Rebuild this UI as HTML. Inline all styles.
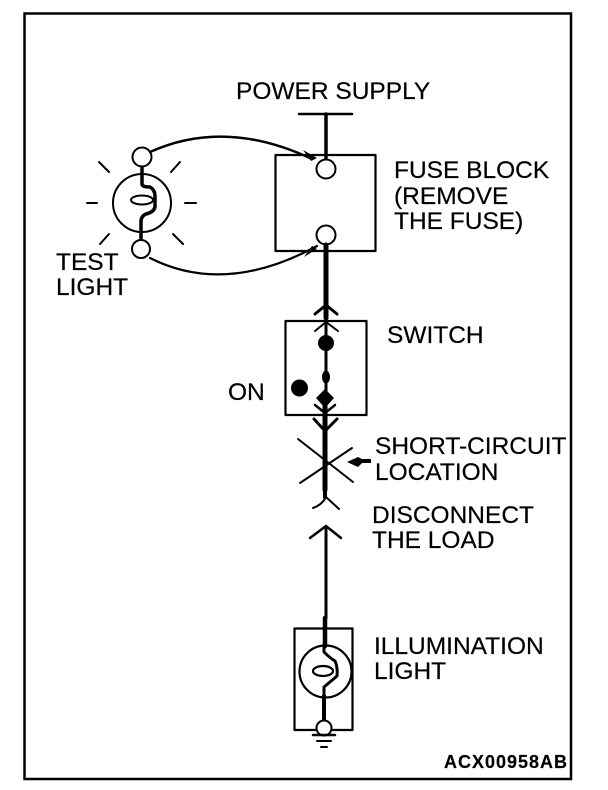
<!DOCTYPE html>
<html><head><meta charset="utf-8"><style>
html,body{margin:0;padding:0;background:#fff}
svg{display:block}
text{font-family:"Liberation Sans",sans-serif;font-size:24.5px;fill:#000;stroke:#000;stroke-width:.2px}
</style></head><body>
<svg width="608" height="790" viewBox="0 0 608 790" xmlns="http://www.w3.org/2000/svg">
<rect x="24.500" y="13.500" width="546.500" height="765.500" fill="none" stroke="#000" stroke-width="2.500"/>
<g fill="none" stroke="#000" stroke-linecap="round" stroke-linejoin="round">
<!-- fuse block -->
<rect x="275.500" y="155" width="100" height="96" stroke-width="2.200"/>
<path d="M299 114H352" stroke-width="2.500"/>
<path d="M326 114V159" stroke-width="3.500"/>
<circle cx="326" cy="169" r="9.500" fill="#fff" stroke-width="2"/>
<circle cx="326" cy="235" r="9.500" fill="#fff" stroke-width="2"/>
<path d="M326 245V318" stroke-width="5"/>
<!-- test light -->
<circle cx="142" cy="157" r="9.500" fill="#fff" stroke-width="2"/>
<circle cx="141" cy="249" r="9" fill="#fff" stroke-width="2"/>
<circle cx="142" cy="203" r="29" stroke-width="2"/>
<path d="M142 167V184Q142 187 150 187Q155 190 155 196V207Q154 212 146 214Q141 216 141 222V239" stroke-width="3.500"/>
<ellipse cx="142" cy="200" rx="11" ry="4.500" stroke-width="2"/>
<path d="M150 152Q225 118 312 159" stroke-width="2.500"/>
<path d="M150 258Q225 296 317 246" stroke-width="2.200"/>
<!-- rays -->
<path d="M99 162L109 172M180 162L171 172M87 203H97M185 203H196M100 244L109 234M173 234L183 244" stroke-width="2"/>
<!-- switch -->
<rect x="285.500" y="321" width="81" height="94" stroke-width="2.200"/>
<path d="M326 318V400" stroke-width="3"/>
<path d="M325 400V490" stroke-width="5"/>
<path d="M325 490V497" stroke-width="4"/>
<path d="M315 314L326 305L337 314" stroke-width="3"/>
<path d="M315 331L326 322L338 331" stroke-width="2"/>
<path d="M315 405L325 413L335 405" stroke-width="2.500"/>
<path d="M314 419L325 431L337 419" stroke-width="3"/>
<!-- X -->
<path d="M298 439L353 482M300 483L352 448" stroke-width="2"/>
<!-- disconnect -->
<path d="M313 508Q322 505 326 497L339 509" stroke-width="2"/>
<path d="M310 538L326 526L341 538" stroke-width="2.500"/>
<path d="M326 527V618" stroke-width="3"/>
<path d="M325 618V646" stroke-width="4.500"/>
<!-- illumination -->
<rect x="294.500" y="628.500" width="58" height="101.500" stroke-width="2.200"/>
<circle cx="325.500" cy="671.500" r="26" stroke-width="2.200"/>
<path d="M324 645V652Q330 658 335 661Q338 668 337 676Q330 682 324 687V697" stroke-width="3"/>
<ellipse cx="323" cy="671" rx="10" ry="5" stroke-width="2.200"/>
<path d="M324 696V720" stroke-width="4"/>
<circle cx="324" cy="728" r="7.500" fill="#fff" stroke-width="2"/>
<path d="M313 735H335" stroke-width="2.500"/>
<path d="M317 741H331" stroke-width="2"/>
<path d="M321 747H327" stroke-width="2"/>
</g>
<g fill="#000" stroke="none">
<path d="M303 150L317 158L311 161Z"/>
<path d="M304 257L317 249L312 246Z"/>
<circle cx="326" cy="343" r="8"/>
<ellipse cx="326" cy="377" rx="4" ry="6.500"/>
<path d="M325 389L334 398L325 408L316 398Z"/>
<circle cx="299.500" cy="388" r="8.500"/>
<path d="M347 462L358 457L362 459H371V463H362L358 467Z"/>
</g>
<text x="236" y="99">POWER SUPPLY</text>
<text x="394" y="178">FUSE BLOCK</text>
<text x="394" y="204">(REMOVE</text>
<text x="394" y="229">THE FUSE)</text>
<text x="56" y="270">TEST</text>
<text x="56" y="295">LIGHT</text>
<text x="387" y="343">SWITCH</text>
<text x="228" y="400">ON</text>
<text x="375" y="454">SHORT-CIRCUIT</text>
<text x="375" y="480">LOCATION</text>
<text x="372" y="523">DISCONNECT</text>
<text x="372" y="548">THE LOAD</text>
<text x="374" y="654">ILLUMINATION</text>
<text x="374" y="679">LIGHT</text>
<text x="444" y="768" textLength="123" style="font-size:18px;font-weight:bold">ACX00958AB</text>
</svg>
</body></html>
